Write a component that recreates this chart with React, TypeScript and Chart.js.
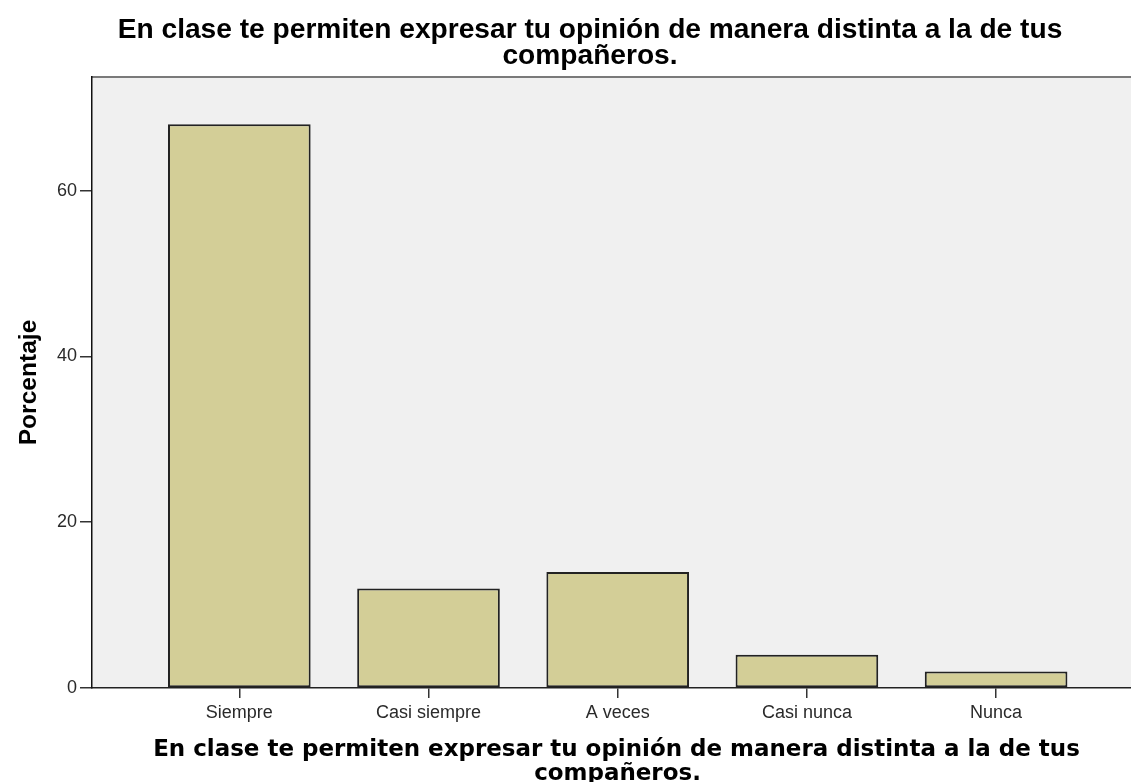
import React, { useEffect, useRef } from "react";
import { Chart, registerables } from "chart.js";

Chart.register(...registerables);

const categories = ["Siempre", "Casi siempre", "A veces", "Casi nunca", "Nunca"];
const percentages = [68, 12, 14, 4, 2];
const yTicks = [0, 20, 40, 60];
const titleLines = [
  "En clase te permiten expresar tu opinión de manera distinta a la de tus",
  "compañeros.",
];
const xTitleLines = [
  "En clase te permiten expresar tu opinión de manera distinta a la de tus",
  "compañeros.",
];
const yTitle = "Porcentaje";

function fitFont(ctx: CanvasRenderingContext2D, text: string, family: string, target: number) {
  ctx.font = `bold 20px ${family}`;
  const w = ctx.measureText(text).width;
  return (20 * target) / w;
}

const decorPlugin = {
  id: "decor",
  beforeDraw(chart: any) {
    const { ctx, chartArea } = chart;
    ctx.save();
    ctx.fillStyle = "#ffffff";
    ctx.fillRect(0, 0, chart.width, chart.height);
    ctx.fillStyle = "#f0f0f0";
    ctx.fillRect(chartArea.left, chartArea.top, chartArea.right - chartArea.left, chartArea.bottom - chartArea.top);
    ctx.strokeStyle = "#7a7a7a";
    ctx.lineWidth = 2;
    ctx.beginPath();
    ctx.moveTo(chartArea.left, chartArea.top);
    ctx.lineTo(chartArea.right, chartArea.top);
    ctx.stroke();
    ctx.restore();
  },
  afterDraw(chart: any) {
    const { ctx, chartArea } = chart;
    ctx.save();
    ctx.fillStyle = "#000000";
    ctx.textAlign = "center";
    ctx.textBaseline = "alphabetic";
    // top title
    const fam1 = '"Liberation Sans", Arial, sans-serif';
    const s1 = fitFont(ctx, titleLines[0], fam1, 945);
    ctx.font = `bold ${s1}px ${fam1}`;
    ctx.fillText(titleLines[0], 590, 38);
    ctx.fillText(titleLines[1], 590, 63.5);
    // x title
    const fam2 = '"DejaVu Sans", Verdana, sans-serif';
    const s2 = fitFont(ctx, xTitleLines[0], fam2, 927);
    ctx.font = `bold ${s2}px ${fam2}`;
    ctx.fillText(xTitleLines[0], 616.5, 755.5);
    ctx.fillText(xTitleLines[1], 617.5, 780);
    // y title
    const s3 = fitFont(ctx, yTitle, fam1, 122);
    ctx.font = `bold ${s3 * 1.03}px ${fam1}`;
    ctx.translate(35.5, (chartArea.top + chartArea.bottom) / 2);
    ctx.rotate(-Math.PI / 2);
    ctx.fillText(yTitle, 0, 0);
    ctx.restore();
  },
};

export default function App() {
  const ref = useRef<HTMLCanvasElement | null>(null);
  useEffect(() => {
    if (!ref.current) return;
    const chart = new Chart(ref.current, {
      type: "bar",
      data: {
        datasets: [
          {
            data: percentages.map((v, i) => ({ x: i + 1, y: v })),
            backgroundColor: "#d3ce97",
            borderColor: "#222222",
            borderWidth: 2,
            borderSkipped: false,
            barPercentage: 0.754,
            categoryPercentage: 1,
          },
        ],
      },
      plugins: [decorPlugin],
      options: {
        responsive: false,
        animation: false,
        layout: { padding: { top: 77, left: 0, right: 0, bottom: 0 } },
        plugins: { legend: { display: false }, tooltip: { enabled: false }, title: { display: false } },
        scales: {
          x: {
            type: "linear",
            offset: false,
            min: 0.2214,
            max: 5.713,
            afterBuildTicks: (scale: any) => {
              scale.ticks = categories.map((_, i) => ({ value: i + 1 }));
            },
            afterFit: (scale: any) => {
              scale.height = 94;
            },
            ticks: {
              autoSkip: false,
              maxRotation: 0,
              padding: 4,
              color: "#2a2a2a",
              font: { family: '"Liberation Sans", Arial, sans-serif', size: 18 },
              callback: (v: any) => categories[Math.round(Number(v)) - 1] ?? "",
            },
            grid: { offset: false, drawOnChartArea: false, drawTicks: true, tickLength: 10, color: "#333333", lineWidth: 1.5 },
            border: { display: true, color: "#222222", width: 1.5 },
          },
          y: {
            min: 0,
            max: 73.7,
            afterBuildTicks: (scale: any) => {
              scale.ticks = yTicks.map((v) => ({ value: v }));
            },
            afterFit: (scale: any) => {
              scale.width = 92;
            },
            ticks: {
              padding: 3,
              color: "#2a2a2a",
              font: { family: '"Liberation Sans", Arial, sans-serif', size: 18 },
            },
            grid: { drawOnChartArea: false, drawTicks: true, tickLength: 12, color: "#333333", lineWidth: 1.5 },
            border: { display: true, color: "#111111", width: 1.5 },
          },
        },
      },
    });
    return () => chart.destroy();
  }, []);
  return (
    <div style={{ position: "absolute", left: 0, top: 0, width: 1131, height: 782, background: "#fff" }}>
      <canvas ref={ref} width={1131} height={782} style={{ display: "block", width: 1131, height: 782 }} />
    </div>
  );
}
